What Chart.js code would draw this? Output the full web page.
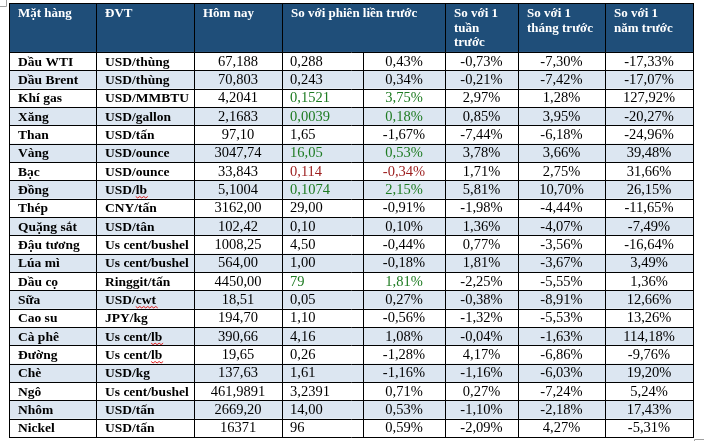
<!DOCTYPE html>
<html>
<head>
<meta charset="utf-8">
<script src="https://cdn.jsdelivr.net/npm/chart.js@4"></script>
<style>
  html, body { margin: 0; padding: 0; background: #fff; }
  canvas { display: block; }
</style>
</head>
<body>
<canvas id="priceTable" width="704" height="441"></canvas>
<script>
// ===== TABLE DATA =====
const headers = [
  ['Mặt hàng'],
  ['ĐVT'],
  ['Hôm nay'],
  ['So với phiên liền trước'],
  ['So với 1', 'tuần', 'trước'],
  ['So với 1', 'tháng trước'],
  ['So với 1', 'năm trước']
];
const items = ['Dầu WTI', 'Dầu Brent', 'Khí gas', 'Xăng', 'Than', 'Vàng', 'Bạc', 'Đồng', 'Thép', 'Quặng sắt',
  'Đậu tương', 'Lúa mì', 'Dầu cọ', 'Sữa', 'Cao su', 'Cà phê', 'Đường', 'Chè', 'Ngô', 'Nhôm', 'Nickel'];
const units = ['USD/thùng', 'USD/thùng', 'USD/MMBTU', 'USD/gallon', 'USD/tấn', 'USD/ounce', 'USD/ounce', 'USD/lb',
  'CNY/tấn', 'USD/tân', 'Us cent/bushel', 'Us cent/bushel', 'Ringgit/tấn', 'USD/cwt', 'JPY/kg', 'Us cent/lb',
  'Us cent/lb', 'USD/kg', 'Us cent/bushel', 'USD/tấn', 'USD/tấn'];
const today = ['67,188', '70,803', '4,2041', '2,1683', '97,10', '3047,74', '33,843', '5,1004', '3162,00', '102,42',
  '1008,25', '564,00', '4450,00', '18,51', '194,70', '390,66', '19,65', '137,63', '461,9891', '2669,20', '16371'];
const dayChange = ['0,288', '0,243', '0,1521', '0,0039', '1,65', '16,05', '0,114', '0,1074', '29,00', '0,10',
  '4,50', '1,00', '79', '0,05', '1,10', '4,16', '0,26', '1,61', '3,2391', '14,00', '96'];
const dayPct = ['0,43%', '0,34%', '3,75%', '0,18%', '-1,67%', '0,53%', '-0,34%', '2,15%', '-0,91%', '0,10%',
  '-0,44%', '-0,18%', '1,81%', '0,27%', '-0,56%', '1,08%', '-1,28%', '-1,16%', '0,71%', '0,53%', '0,59%'];
const weekPct = ['-0,73%', '-0,21%', '2,97%', '0,85%', '-7,44%', '3,78%', '1,71%', '5,81%', '-1,98%', '1,36%',
  '0,77%', '1,81%', '-2,25%', '-0,38%', '-1,32%', '-0,04%', '4,17%', '-1,16%', '0,27%', '-1,10%', '-2,09%'];
const monthPct = ['-7,30%', '-7,42%', '1,28%', '3,95%', '-6,18%', '3,66%', '2,75%', '10,70%', '-4,44%', '-4,07%',
  '-3,56%', '-3,67%', '-5,55%', '-8,91%', '-5,53%', '-1,63%', '-6,86%', '-6,03%', '-7,24%', '-2,18%', '4,27%'];
const yearPct = ['-17,33%', '-17,07%', '127,92%', '-20,27%', '-24,96%', '39,48%', '31,66%', '26,15%', '-11,65%', '-7,49%',
  '-16,64%', '3,49%', '1,36%', '12,66%', '13,26%', '114,18%', '-9,76%', '19,20%', '5,24%', '17,43%', '-5,31%'];
// session move marked in the source (up = green, down = red)
const sessionTrend = ['', '', 'up', 'up', '', 'up', 'down', 'up', '', '', '', '', 'up', '', '', '', '', '', '', '', ''];
// unit suffixes underlined by the spell checker in the source
const flaggedUnits = ['lb', 'cwt'];

// ===== LAYOUT =====
const colWidths = [87, 98, 88, 81, 82, 73, 87, 88];
const headerRows = 2.67;           // header height in body-row units
const totalWidth = colWidths.reduce((a, b) => a + b, 0);
const colEdges = colWidths.reduce((acc, w) => { acc.push(acc[acc.length - 1] + w); return acc; }, [0]);

const HEADER_BG = '#1F4E79';
const STRIPE_BG = '#DCE6F1';
const UP_COLOR = '#1E7B22';
const DOWN_COLOR = '#9C1C1C';
const SERIF = '"Liberation Serif", "Times New Roman", serif';

// ===== TABLE PLUGIN =====
const tablePlugin = {
  id: 'tablePlugin',
  afterDraw(chart) {
    const ctx = chart.ctx;
    const xs = chart.scales.x;
    const ys = chart.scales.y;
    const X = v => xs.getPixelForValue(v);
    const Y = v => ys.getPixelForValue(v);
    const rowCount = items.length;

    ctx.save();

    // header background
    ctx.fillStyle = HEADER_BG;
    ctx.fillRect(X(0), Y(0), X(totalWidth) - X(0), Y(headerRows) - Y(0));

    // striped rows
    ctx.fillStyle = STRIPE_BG;
    for (let i = 1; i < rowCount; i += 2) {
      ctx.fillRect(X(0), Y(headerRows + i), X(totalWidth) - X(0), Y(headerRows + i + 1) - Y(headerRows + i));
    }

    // grid lines
    ctx.strokeStyle = '#000';
    ctx.lineWidth = 1;
    ctx.beginPath();
    const hy = [Y(0)];
    for (let i = 0; i <= rowCount; i++) hy.push(Y(headerRows + i));
    hy.forEach(y => {
      const py = Math.round(y) + 0.5;
      ctx.moveTo(X(0), py);
      ctx.lineTo(X(totalWidth) + 1, py);
    });
    colEdges.forEach((e, i) => {
      const px = Math.round(X(e)) + 0.5;
      const top = i === 4 ? Y(headerRows) : Y(0);
      ctx.moveTo(px, top);
      ctx.lineTo(px, Y(headerRows + rowCount) + 1);
    });
    ctx.stroke();

    // header text
    ctx.fillStyle = '#fff';
    ctx.font = 'bold 13px ' + SERIF;
    ctx.textAlign = 'left';
    ctx.textBaseline = 'alphabetic';
    const headerCols = [0, 1, 2, 3, 5, 6, 7];
    headers.forEach((lines, h) => {
      const x0 = X(colEdges[headerCols[h]]) + 9;
      lines.forEach((line, li) => {
        ctx.fillText(line, x0, Y(0) + 14 + li * 14.5);
      });
    });

    // body text
    for (let r = 0; r < rowCount; r++) {
      const yMid = (Y(headerRows + r) + Y(headerRows + r + 1)) / 2;
      const base = yMid + 4.5;
      const colorFor = sessionTrend[r] === 'up' ? UP_COLOR : sessionTrend[r] === 'down' ? DOWN_COLOR : '#000';

      ctx.font = 'bold 13.5px ' + SERIF;
      ctx.fillStyle = '#000';
      ctx.textAlign = 'left';
      ctx.fillText(items[r], X(colEdges[0]) + 9, base);
      const ux = X(colEdges[1]) + 9;
      ctx.fillText(units[r], ux, base);

      // spell-check squiggle
      const slash = units[r].lastIndexOf('/');
      const suffix = units[r].slice(slash + 1);
      if (flaggedUnits.includes(suffix)) {
        const sx = ux + ctx.measureText(units[r].slice(0, slash + 1)).width;
        const sw = ctx.measureText(suffix).width;
        ctx.strokeStyle = '#E02020';
        ctx.lineWidth = 1;
        ctx.beginPath();
        for (let k = 0; k <= sw + 2; k += 2) {
          const yy = base + 2.5 + ((k / 2) % 2 === 0 ? 0 : 1.5);
          if (k === 0) ctx.moveTo(sx + k, yy); else ctx.lineTo(sx + k, yy);
        }
        ctx.stroke();
      }

      ctx.font = '14.5px ' + SERIF;
      ctx.fillStyle = '#000';
      ctx.textAlign = 'center';
      ctx.fillText(today[r], (X(colEdges[2]) + X(colEdges[3])) / 2, base);

      ctx.fillStyle = colorFor;
      ctx.textAlign = 'left';
      ctx.fillText(dayChange[r], X(colEdges[3]) + 8, base);
      ctx.textAlign = 'center';
      ctx.fillText(dayPct[r], (X(colEdges[4]) + X(colEdges[5])) / 2, base);

      ctx.fillStyle = '#000';
      ctx.fillText(weekPct[r], (X(colEdges[5]) + X(colEdges[6])) / 2, base);
      ctx.fillText(monthPct[r], (X(colEdges[6]) + X(colEdges[7])) / 2, base);
      ctx.fillText(yearPct[r], (X(colEdges[7]) + X(colEdges[8])) / 2, base);
    }

    // small anchor marks at the corners
    ctx.strokeStyle = '#A0A0A0';
    ctx.lineWidth = 1;
    ctx.beginPath();
    ctx.moveTo(0, 6.5); ctx.lineTo(6.5, 6.5); ctx.lineTo(6.5, 0);
    ctx.moveTo(X(totalWidth) + 1.5, chart.height); ctx.lineTo(X(totalWidth) + 1.5, Y(headerRows + rowCount) + 2.5);
    ctx.lineTo(chart.width, Y(headerRows + rowCount) + 2.5);
    ctx.stroke();

    ctx.restore();
  }
};

// ===== INIT CHART =====
const tableCtx = document.getElementById('priceTable').getContext('2d');
new Chart(tableCtx, {
  type: 'scatter',
  data: { datasets: [] },
  options: {
    responsive: false,
    animation: false,
    devicePixelRatio: 1,
    layout: { padding: { left: 9, top: 3, right: 11, bottom: 4 } },
    plugins: { legend: { display: false }, tooltip: { enabled: false } },
    scales: {
      x: { type: 'linear', min: 0, max: totalWidth, display: false },
      y: { type: 'linear', min: 0, max: headerRows + items.length, reverse: true, display: false }
    }
  },
  plugins: [tablePlugin]
});
</script>
</body>
</html>
